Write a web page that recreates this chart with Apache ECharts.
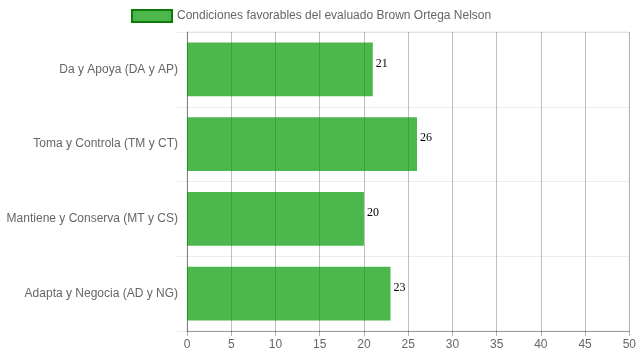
<!DOCTYPE html>
<html><head><meta charset="utf-8">
<script src="https://cdn.jsdelivr.net/npm/echarts@6/dist/echarts.min.js"></script>
<style>html,body{margin:0;padding:0;background:#fff}#c{width:639px;height:360px}</style>
</head><body><div id="c"></div>
<script>
const categories = ["Da y Apoya (DA y AP)", "Toma y Controla (TM y CT)", "Mantiene y Conserva (MT y CS)", "Adapta y Negocia (AD y NG)"];
const values = [21, 26, 20, 23];
const seriesName = "Condiciones favorables del evaluado Brown Ortega Nelson";
const xTicks = [0, 5, 10, 15, 20, 25, 30, 35, 40, 45, 50];

const chart = echarts.init(document.getElementById('c'), null, {renderer: 'canvas'});
chart.setOption({
  animation: false,
  legend: {
    top: 4, left: 126,
    itemWidth: 40, itemHeight: 12, itemGap: 6,
    textStyle: {color: '#666', fontSize: 12, fontFamily: 'Liberation Sans, Arial'},
    data: [{name: seriesName, icon: 'rect', itemStyle: {color: 'rgba(0,153,0,0.7)', borderColor: '#0a7a0a', borderWidth: 2}}]
  },
  grid: {left: 187, right: 9, top: 32, bottom: 29, containLabel: false,
    show: true, borderColor: 'rgba(0,0,0,0.09)', borderWidth: 1},
  xAxis: {
    type: 'value', min: xTicks[0], max: xTicks[xTicks.length - 1], interval: 5,
    axisLine: {show: true, lineStyle: {color: 'rgba(0,0,0,0.3)'}},
    axisTick: {show: true, length: 5, lineStyle: {color: 'rgba(0,0,0,0.3)'}},
    axisLabel: {color: '#666', fontSize: 12, fontFamily: 'Liberation Sans, Arial', margin: 8},
    splitLine: {show: true, lineStyle: {color: 'rgba(0,0,0,0.25)'}}
  },
  yAxis: {
    type: 'category', inverse: true, data: categories,
    axisLine: {show: true, lineStyle: {color: 'rgba(0,0,0,0.3)'}},
    axisTick: {show: true, length: 10, lineStyle: {color: 'rgba(0,0,0,0.07)'}},
    axisLabel: {color: '#666', fontSize: 12, fontFamily: 'Liberation Sans, Arial', margin: 9},
    splitLine: {show: true, lineStyle: {color: 'rgba(0,0,0,0.07)'}}
  },
  series: [{
    name: seriesName, type: 'bar', data: values,
    barCategoryGap: '28%',
    itemStyle: {color: 'rgba(0,153,0,0.7)'},
    label: {show: true, position: 'right', distance: 3, offset: [0, -6], color: '#000', fontSize: 12, fontFamily: 'Liberation Serif, Times New Roman, serif'}
  }]
});
</script></body></html>
